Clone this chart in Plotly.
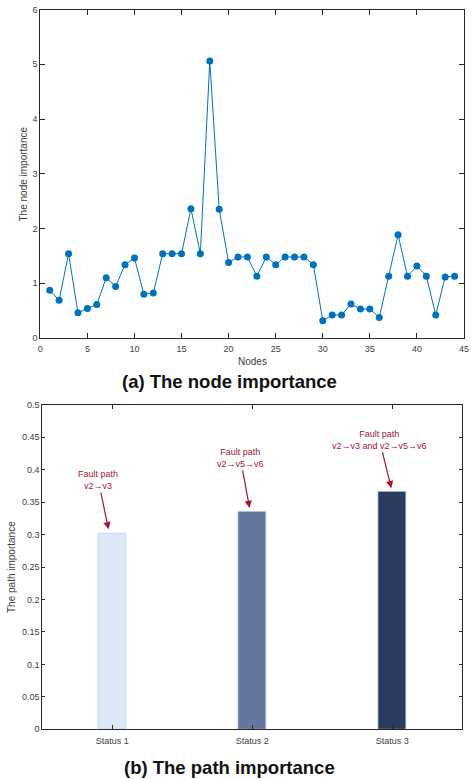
import plotly.graph_objects as go

# ---- data ----
nodes = list(range(1, 45))
node_importance = [0.87, 0.69, 1.54, 0.46, 0.54, 0.61, 1.10, 0.94, 1.34, 1.46,
                   0.80, 0.82, 1.54, 1.54, 1.54, 2.36, 1.54, 5.06, 2.35, 1.38,
                   1.48, 1.48, 1.13, 1.48, 1.34, 1.48, 1.48, 1.48, 1.34, 0.315,
                   0.42, 0.42, 0.62, 0.53, 0.53, 0.376, 1.13, 1.885, 1.13, 1.315,
                   1.13, 0.42, 1.115, 1.13]

status_labels = ["Status 1", "Status 2", "Status 3"]
status_pos = [1, 2, 3]
path_importance = [0.302, 0.335, 0.3655]
bar_colors = ["#dde9f8", "#64789f", "#283a5e"]
fault_texts = ["Fault path<br>v2\u2192v3",
               "Fault path<br>v2\u2192v5\u2192v6",
               "Fault path<br>v2\u2192v3 and v2\u2192v5\u2192v6"]

x_ticks_a = list(range(0, 50, 5))
y_ticks_a = list(range(0, 7))
y_ticks_b = [round(0.05 * i, 2) for i in range(11)]

W, H = 471, 779
FONT = "Liberation Sans, Arial, sans-serif"
AXC = "#262626"
TICKC = "#404040"

def px_x(p):
    return p / W

def px_y(p):
    return 1 - p / H

fig = go.Figure()

fig.add_trace(go.Scatter(
    x=nodes, y=node_importance, mode="lines+markers",
    line=dict(color="#0072BD", width=1),
    marker=dict(color="#0072BD", size=7),
    xaxis="x", yaxis="y", showlegend=False,
))

fig.add_trace(go.Bar(
    x=status_pos, y=path_importance, width=0.207,
    marker=dict(color=bar_colors, line=dict(color="#c8d2e0", width=0.8)),
    xaxis="x2", yaxis="y2", showlegend=False,
))

axis_common = dict(
    showline=True, linecolor=AXC, linewidth=1, mirror="ticks",
    ticks="inside", tickcolor=AXC, tickwidth=1,
    showgrid=False, zeroline=False, automargin=False,
    tickfont=dict(family=FONT, size=9, color=TICKC),
)

fig.update_layout(
    width=W, height=H,
    margin=dict(l=0, r=0, t=0, b=0),
    paper_bgcolor="white", plot_bgcolor="white",
    font=dict(family=FONT),
    xaxis=dict(domain=[px_x(40.3), px_x(464)], range=[0, 45],
               tickvals=x_ticks_a, ticklen=5, ticklabelstandoff=2,
               anchor="y", **axis_common),
    yaxis=dict(domain=[px_y(338), px_y(9.5)], range=[0, 6],
               tickvals=y_ticks_a, ticklen=5, anchor="x", **axis_common),
    xaxis2=dict(domain=[px_x(42.3), px_x(462.3)], range=[0.5, 3.5],
                tickvals=status_pos, ticktext=status_labels, ticklen=4,
                ticklabelstandoff=3, anchor="y2", **axis_common),
    yaxis2=dict(domain=[px_y(729.3), px_y(404.7)], range=[0, 0.5],
                tickvals=y_ticks_b, ticklen=3, anchor="x2", **axis_common),
    bargap=0,
)

def label(text, x, y, size, color, angle=0):
    return dict(text=text, x=px_x(x), y=px_y(y), xref="paper", yref="paper",
                xanchor="center", yanchor="middle", showarrow=False,
                textangle=angle, font=dict(family=FONT, size=size, color=color))

annotations = [
    label("Nodes", 252, 362, 10, TICKC),
    label("The node importance", 22.5, 174, 10, TICKC, -90),
    label("The path importance", 11, 567, 10, TICKC, -90),
    label("<b>(a) The node importance</b>", 229, 382, 18.5, "#111111"),
    label("<b>(b) The path importance</b>", 229, 767, 18.5, "#111111"),
]

offsets = [(-11, -53, -3), (-10, -54, -2), (-13, -52.5, 0)]
for pos, val, txt, (ax, ay, xs) in zip(status_pos, path_importance, fault_texts, offsets):
    annotations.append(dict(
        text=txt, x=pos, y=val, xref="x2", yref="y2",
        ax=ax, ay=ay, xshift=xs, showarrow=True, arrowhead=2, arrowsize=1.2,
        arrowwidth=1.2, arrowcolor="#A2142F", standoff=4,
        font=dict(family=FONT, size=9, color="#A2142F"),
    ))

fig.update_layout(annotations=annotations)

fig.write_html("out.html", config={"displayModeBar": False},
               post_script="document.body.style.margin='0';document.body.style.overflow='hidden';")
